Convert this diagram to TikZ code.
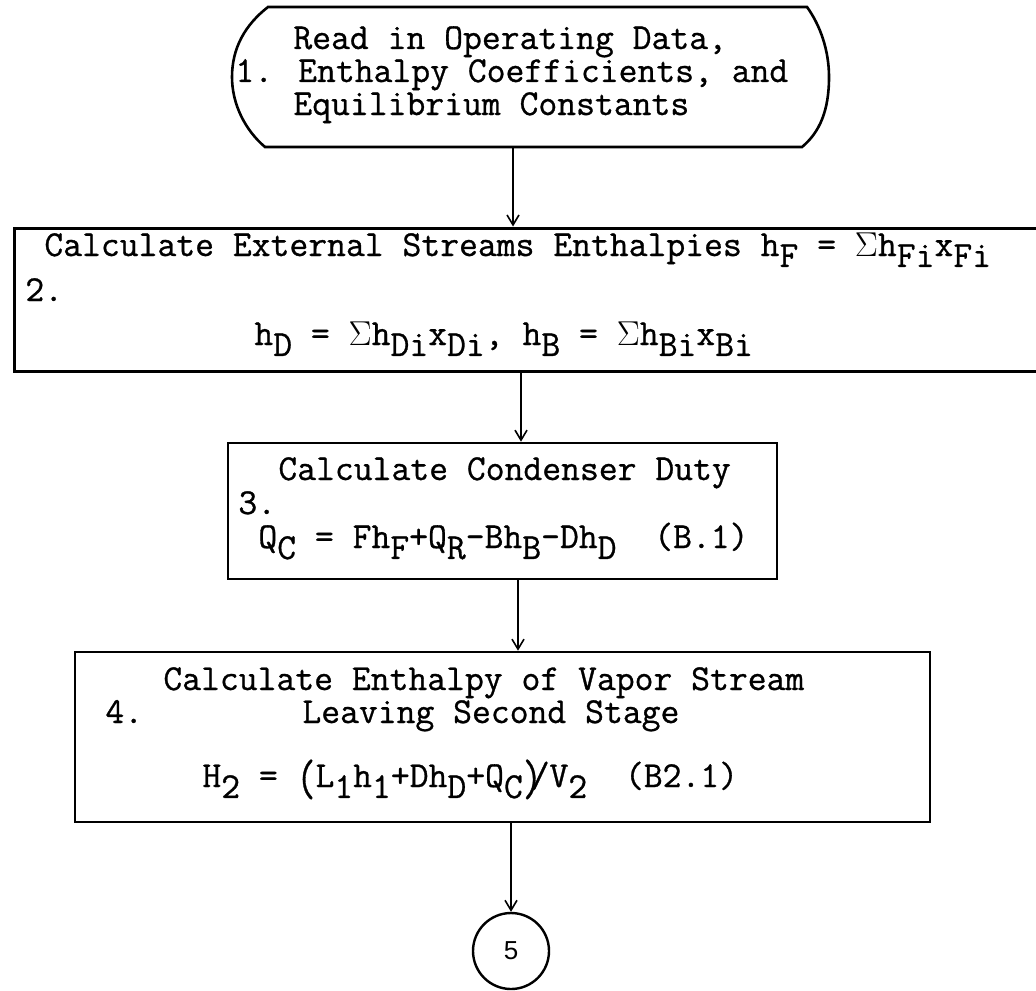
\documentclass[tikz,border=0pt]{standalone}
\usepackage{fontspec}
\usepackage{graphicx}
\setsansfont{Liberation Sans}
\newfontfamily\typew[FakeBold=0.8]{Latin Modern Mono}
\usetikzlibrary{arrows.meta}
\newcommand{\lw}[1]{\raisebox{-0.3em}{#1}}
\newcommand{\sig}{$\Sigma$}
\newcommand{\bigpar}[1]{\raisebox{-0.22em}{\scalebox{1}[1.4]{#1}}}
\begin{document}
\begin{tikzpicture}[x=0.5pt,y=-0.5pt,
  txt/.style={font=\typew\fontsize{18.3}{15}\selectfont, inner sep=0pt, anchor=base west},
  procbox/.style={draw, line width=1.3pt, inner sep=0pt},
  conn/.style={line width=0.8pt, -{Straight Barb[length=5pt,width=6pt]}},
]
\useasboundingbox (0,0) rectangle (1036,990);

% box 1 (terminal)
\node[inner sep=0pt, minimum width=298pt, minimum height=70pt] (b1) at (530,77) {};
\draw[line width=1.3pt] (268,7) -- (807,7) .. controls (820,25) and (829,50) .. (829,77)
  .. controls (829,110) and (820,132) .. (802,147) -- (265,147)
  .. controls (245,130) and (232,104) .. (232,77) .. controls (232,48) and (245,25) .. (268,7) -- cycle;
\node[txt] (t1a) at (293,49) {Read in Operating Data,};
\node[txt] (t1b) at (235,82) {1. Enthalpy Coefficients, and};
\node[txt] (t1c) at (293,115) {Equilibrium Constants};

% box 2
\node[procbox, line width=1.5pt, minimum width=520pt, minimum height=71.5pt] (b2) at (534,299.5) {};
\node[txt] (t2a) at (44,256) {Calculate External Streams Enthalpies h\lw{F} = \sig h\lw{Fi}x\lw{Fi}};
\node[txt] (t2n) at (25,301) {2.};
\node[txt] (t2b) at (254,345) {h\lw{D} = \sig h\lw{Di}x\lw{Di}, h\lw{B} = \sig h\lw{Bi}x\lw{Bi}};

% box 3
\node[procbox, minimum width=274.5pt, minimum height=68pt] (b3) at (502.5,511) {};
\node[txt] (t3a) at (278,480) {Calculate Condenser Duty};
\node[txt] (t3n) at (238,514) {3.};
\node[txt] (t3b) at (258,548) {Q\lw{C} = Fh\lw{F}+Q\lw{R}-Bh\lw{B}-Dh\lw{D}\ \ (B.1)};

% box 4
\node[procbox, minimum width=427.5pt, minimum height=85pt] (b4) at (502.5,737) {};
\node[txt] (t4a) at (163,690) {Calculate Enthalpy of Vapor Stream};
\node[txt] (t4n) at (105,723) {4.};
\node[txt] (t4b) at (302,723) {Leaving Second Stage};
\node[txt] (t4c) at (202,787) {H\lw{2} = \bigpar{(}L\lw{1}h\lw{1}+Dh\lw{D}+Q\lw{C}\bigpar{)}\hspace{-0.3em}/V\lw{2}\ \ (B2.1)};

% connector circle
\node[draw, circle, line width=1.2pt, minimum size=38pt, inner sep=0pt,
  font=\sffamily\fontsize{13}{15}\selectfont] (c5) at (511,951) {5};

% connectors
\coordinate (a1) at (513,0);
\coordinate (a2) at (521,0);
\coordinate (a3) at (518,0);
\coordinate (a4) at (511,0);
\draw[conn] (a1 |- b1.south) -- (a1 |- b2.north);
\draw[conn] (a2 |- b2.south) -- (a2 |- b3.north);
\draw[conn] (a3 |- b3.south) -- (a3 |- b4.north);
\draw[conn] (a4 |- b4.south) -- (c5.north);
\end{tikzpicture}
\end{document}
